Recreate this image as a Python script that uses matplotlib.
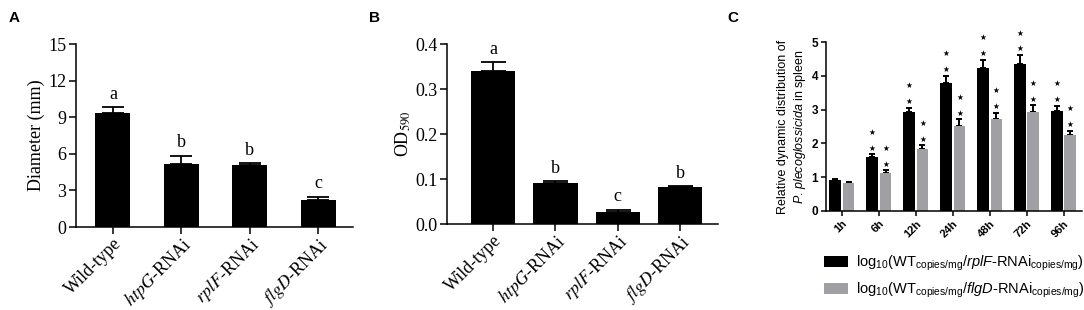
import numpy as np
import matplotlib.pyplot as plt
from matplotlib.patches import Patch

plt.rcParams['mathtext.fontset'] = 'custom'
plt.rcParams['mathtext.rm'] = 'Liberation Sans'
plt.rcParams['mathtext.it'] = 'Liberation Sans:italic'
plt.rcParams['mathtext.bf'] = 'Liberation Sans:bold'

# panel A / B data
strains = ['Wild-type', r'$\it{htpG}$-RNAi', r'$\it{rplF}$-RNAi', r'$\it{flgD}$-RNAi']
diameter = [9.33, 5.2, 5.07, 2.25]
diameter_err = [0.48, 0.66, 0.17, 0.24]
diameter_grp = ['a', 'b', 'b', 'c']
od590 = [0.341, 0.092, 0.027, 0.082]
od590_err = [0.019, 0.003, 0.005, 0.003]
od590_grp = ['a', 'b', 'c', 'b']

# panel C data
times = ['1h', '6h', '12h', '24h', '48h', '72h', '96h']
rplf = [0.92, 1.60, 2.92, 3.80, 4.24, 4.36, 2.95]
rplf_err = [0.03, 0.08, 0.14, 0.20, 0.23, 0.25, 0.16]
flgd = [0.82, 1.13, 1.82, 2.52, 2.73, 2.93, 2.24]
flgd_err = [0.03, 0.07, 0.12, 0.19, 0.18, 0.20, 0.14]
rplf_stars = [0, 2, 2, 2, 2, 2, 2]
flgd_stars = [0, 2, 2, 2, 2, 2, 2]

fig = plt.figure(figsize=(10.84, 3.10), dpi=100)


def serif_panel(ax, vals, errs, grps, width, xlim, ylim, yticks, ylabel, fmt, capsize):
    x = np.arange(len(vals))
    ax.bar(x, vals, width=width, color='black', zorder=2)
    ax.errorbar(x, vals, yerr=[np.zeros(len(vals)), errs], fmt='none',
                ecolor='black', elinewidth=1.3, capsize=capsize, capthick=1.3, zorder=1)
    for xi, v, e, g in zip(x, vals, errs, grps):
        ax.annotate(g, (xi, v + e), xytext=(0, 3), textcoords='offset points',
                    ha='center', va='bottom', fontsize=13, family='Liberation Serif')
    ax.set_xlim(*xlim)
    ax.set_ylim(*ylim)
    ax.set_yticks(yticks)
    ax.set_yticklabels([fmt.format(t) for t in yticks], family='Liberation Serif', fontsize=13)
    ax.set_xticks(x)
    ax.set_xticklabels(strains, rotation=45, ha='right', rotation_mode='anchor',
                       family='Liberation Serif', fontsize=13)
    for t in ax.get_xticklabels():
        t.set_math_fontfamily('stix')
    yl = ax.set_ylabel(ylabel, family='Liberation Serif', fontsize=13, labelpad=2)
    yl.set_math_fontfamily('stix')
    for s in ['top', 'right']:
        ax.spines[s].set_visible(False)
    for s in ['left', 'bottom']:
        ax.spines[s].set_linewidth(1.1)
    ax.tick_params(width=1.1, length=5, pad=2)
    ax.tick_params(axis='x', pad=0.5)


axA = fig.add_axes([0.0701, 0.2677, 0.2555, 0.590])
serif_panel(axA, diameter, diameter_err, diameter_grp, 0.51, (-0.54, 3.51), (0, 15),
            [0, 3, 6, 9, 12, 15], 'Diameter (mm)', '{:g}', 8)

axB = fig.add_axes([0.4124, 0.2774, 0.25, 0.5806])
serif_panel(axB, od590, od590_err, od590_grp, 0.71, (-0.74, 3.61), (0, 0.4),
            [0, 0.1, 0.2, 0.3, 0.4], r'OD$_{590}$', '{:.1f}', 9)

# panel C
axC = fig.add_axes([0.762, 0.3194, 0.236, 0.545])
x = np.arange(len(times))
w = 0.32
off = 0.18
axC.bar(x - off, rplf, width=w, color='black', zorder=2)
axC.bar(x + off, flgd, width=w, color='#a0a0a4', zorder=2)
axC.errorbar(x - off, rplf, yerr=[np.zeros(len(x)), rplf_err], fmt='none',
             ecolor='black', elinewidth=1.4, capsize=2.2, capthick=1.4, zorder=1)
axC.errorbar(x + off, flgd, yerr=[np.zeros(len(x)), flgd_err], fmt='none',
             ecolor='black', elinewidth=1.4, capsize=2.2, capthick=1.4, zorder=1)
for xs, vals, errs, stars in [(x - off, rplf, rplf_err, rplf_stars),
                              (x + off, flgd, flgd_err, flgd_stars)]:
    for xi, v, e, n in zip(xs, vals, errs, stars):
        for k in range(n):
            axC.annotate('★', (xi, v + e), xytext=(0, 4.5 + 11.5 * k),
                         textcoords='offset points', ha='center', va='center',
                         fontsize=5.5, family='DejaVu Sans')
axC.set_xlim(-0.43, 6.49)
axC.set_ylim(0, 5)
axC.set_yticks(range(6))
axC.set_yticklabels([str(i) for i in range(6)], family='Liberation Sans',
                    fontweight='bold', fontsize=8.5)
axC.set_xticks(x)
axC.set_xticklabels(times, rotation=45, ha='right', rotation_mode='anchor',
                    family='Liberation Sans', fontweight='bold', fontsize=8)
axC.set_ylabel('Relative dynamic distribution of\n' + r'$\it{P}$. $\it{plecoglossicida}$ in spleen',
               family='Liberation Sans', fontsize=9, labelpad=3)
for s in ['top', 'right']:
    axC.spines[s].set_visible(False)
for s in ['left', 'bottom']:
    axC.spines[s].set_linewidth(1.1)
axC.tick_params(width=1.1, length=3.5, pad=2)

handles = [Patch(facecolor='black'), Patch(facecolor='#a0a0a4')]
labels = [r'log$_{10}$(WT$_{\mathrm{copies/mg}}$/$\it{rplF}$-RNAi$_{\mathrm{copies/mg}}$)',
          r'log$_{10}$(WT$_{\mathrm{copies/mg}}$/$\it{flgD}$-RNAi$_{\mathrm{copies/mg}}$)']
fig.legend(handles, labels, loc='upper left', bbox_to_anchor=(0.757, 0.19),
           frameon=False, handlelength=1.7, handleheight=0.75,
           handletextpad=0.55, labelspacing=0.5, borderaxespad=0, borderpad=0.2,
           prop={'family': 'Liberation Sans', 'size': 10.5})

for lbl, xp in [('A', 0.008), ('B', 0.340), ('C', 0.671)]:
    fig.text(xp, 0.965, lbl, fontsize=11, fontweight='bold', family='Liberation Sans',
             ha='left', va='top')

fig.savefig('out.png', dpi=100)
